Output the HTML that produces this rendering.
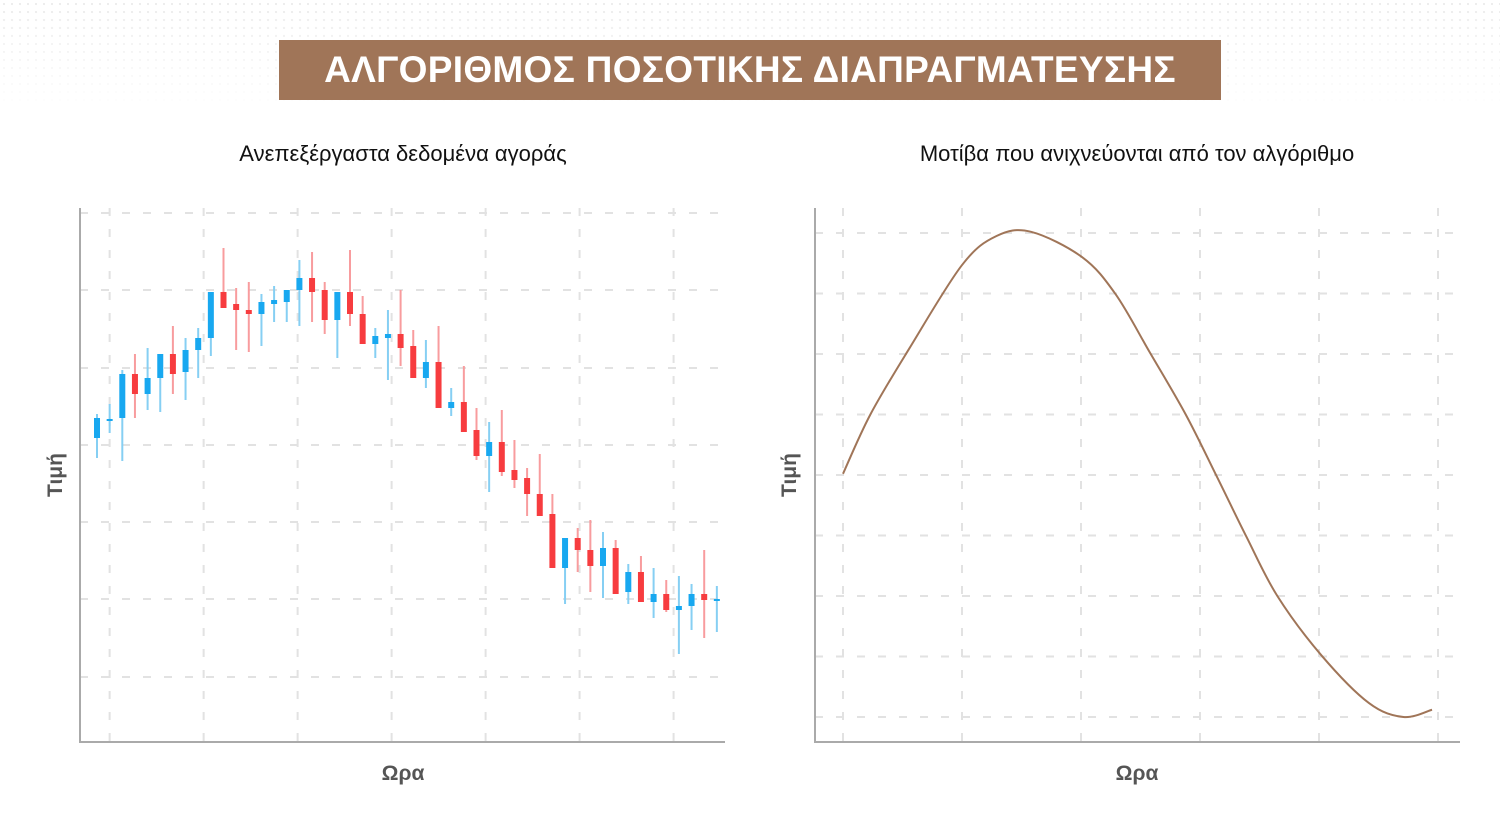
<!DOCTYPE html>
<html><head><meta charset="utf-8">
<style>
html,body{margin:0;padding:0;background:#fff;}
body{width:1500px;height:822px;position:relative;overflow:hidden;font-family:"Liberation Sans","DejaVu Sans",sans-serif;}
.dots{position:absolute;left:0;top:0;width:1500px;height:110px;background-image:radial-gradient(#e6e6e6 1px,transparent 1.3px);background-size:8px 8px;-webkit-mask-image:linear-gradient(to bottom,rgba(0,0,0,.8),rgba(0,0,0,0));}
.banner{position:absolute;left:279px;top:40px;width:942px;height:60px;background:#a07558;color:#fff;font-weight:bold;font-size:37px;line-height:60px;text-align:center;letter-spacing:0.3px;}
.sub{position:absolute;top:141px;font-size:22px;color:#111;text-align:center;width:600px;}
svg{position:absolute;left:0;top:0;}
</style></head>
<body>
<div class="dots"></div>
<div class="banner">ΑΛΓΟΡΙΘΜΟΣ ΠΟΣΟΤΙΚΗΣ ΔΙΑΠΡΑΓΜΑΤΕΥΣΗΣ</div>
<div class="sub" style="left:103px">Ανεπεξέργαστα δεδομένα αγοράς</div>
<div class="sub" style="left:837px">Μοτίβα που ανιχνεύονται από τον αλγόριθμο</div>
<svg id="chart" width="1500" height="822">
  <g id="leftGrid"></g>
  <g id="rightGrid"></g>
  <g id="candles"></g>
  <path id="pattern" fill="none" stroke="#a07558" stroke-width="2"></path>
  <line x1="80" y1="208" x2="80" y2="742" stroke="#aaa" stroke-width="2"/>
  <line x1="79" y1="742" x2="725" y2="742" stroke="#aaa" stroke-width="2"/>
  <line x1="815" y1="208" x2="815" y2="742" stroke="#aaa" stroke-width="2"/>
  <line x1="814" y1="742" x2="1460" y2="742" stroke="#aaa" stroke-width="2"/>
  <text x="403" y="780" text-anchor="middle" font-size="21" font-weight="bold" fill="#555">Ωρα</text>
  <text x="1137" y="780" text-anchor="middle" font-size="21" font-weight="bold" fill="#555">Ωρα</text>
  <text transform="translate(62,475) rotate(-90)" text-anchor="middle" font-size="21" font-weight="bold" fill="#555">Τιμή</text>
  <text transform="translate(796,475) rotate(-90)" text-anchor="middle" font-size="21" font-weight="bold" fill="#555">Τιμή</text>
</svg>
<script>
// Left chart: OHLC data (price units)
const opens  = [362,380,382,426,406,422,446,428,450,462,508,496,490,486,496,498,510,522,510,480,508,486,456,462,466,454,422,438,392,398,370,344,358,330,322,306,286,232,262,250,234,252,208,228,198,206,190,194,206,200];
const closes = [382,381,426,406,422,446,426,450,462,508,492,490,486,498,500,510,522,508,480,508,486,456,464,466,452,422,438,392,398,368,344,358,328,320,306,284,232,262,250,234,252,206,228,198,206,190,194,206,200,201];
const highs  = [386,396,430,446,452,446,474,462,472,508,552,512,518,506,514,510,540,548,518,508,550,504,472,490,510,470,460,474,412,434,392,378,390,360,332,346,306,262,272,280,268,260,236,244,232,220,224,216,250,214];
const lows   = [342,367,339,382,390,388,406,400,422,444,492,450,448,454,478,478,474,478,466,442,474,456,442,420,434,422,412,392,384,368,340,308,324,312,284,284,232,196,228,208,202,206,196,198,182,188,146,170,162,168];
const leftGridPrices = [587,510,432,355,278,201,123];
const leftGridTimes = [1,8.43,15.86,23.29,30.72,38.15,45.58];

// Right chart: detected pattern points (time, value)
const patternTimes  = [0,0.23,0.56,1.0,1.29,1.58,2.01,2.29,2.58,2.88,3.14,3.39,3.65,4.02,4.42,4.71,4.95];
const patternValues = [4.02,5.0,6.1,7.47,7.95,8.02,7.6,6.99,6.02,5.0,3.98,2.98,2.0,1.02,0.23,0.0,0.12];
const rightGridValues = [0,1,2,3,4,5,6,7,8];
const rightGridTimes = [0,1,2,3,4,5];

const NS = "http://www.w3.org/2000/svg";
const lx = i => 97 + i * 12.65;
const ly = p => 800 - p;
const rx = t => 843 + t * 119;
const ry = v => 717 - v * 60.5;

function mk(tag, attrs, parent){
  const e = document.createElementNS(NS, tag);
  for (const k in attrs) e.setAttribute(k, attrs[k]);
  parent.appendChild(e);
  return e;
}
const lg = document.getElementById('leftGrid');
leftGridPrices.forEach(p => {
  const l = mk('line', {x1:80, x2:725, y1:ly(p), y2:ly(p), stroke:'#e2e2e2', 'stroke-width':2, 'stroke-dasharray':'8 13'}, lg);
  
  
});
leftGridTimes.forEach(t => {
  const l = mk('line', {x1:lx(t), x2:lx(t), y1:208, y2:742, stroke:'#e2e2e2', 'stroke-width':2, 'stroke-dasharray':'8 13'}, lg);
  
  
});
const rg = document.getElementById('rightGrid');
rightGridValues.forEach(v => {
  const l = mk('line', {x1:815, x2:1460, y1:ry(v), y2:ry(v), stroke:'#e2e2e2', 'stroke-width':2, 'stroke-dasharray':'8 13'}, rg);
  
  
});
rightGridTimes.forEach(t => {
  const l = mk('line', {x1:rx(t), x2:rx(t), y1:208, y2:742, stroke:'#e2e2e2', 'stroke-width':2, 'stroke-dasharray':'8 13'}, rg);
  
  
});

const cg = document.getElementById('candles');
opens.forEach((o, i) => {
  const c = closes[i], up = c >= o;
  const x = lx(i);
  const w = mk('line', {x1:x, x2:x, y1:ly(highs[i]), y2:ly(lows[i]), stroke: up ? '#86cff3' : '#f89c9e', 'stroke-width':2}, cg);
  
  
  const top = ly(Math.max(o, c)), h = Math.max(2, Math.abs(c - o));
  const b = mk('rect', {x:x-3, y:top, width:6, height:h, fill: up ? '#18a8f0' : '#f73c3f'}, cg);
  
  
});

// Catmull-Rom smoothing for pattern line
const pts = patternTimes.map((t, i) => [rx(t), ry(patternValues[i])]);
let d = 'M' + pts[0][0] + ',' + pts[0][1];
for (let i = 0; i < pts.length - 1; i++) {
  const p0 = pts[i-1] || pts[i], p1 = pts[i], p2 = pts[i+1], p3 = pts[i+2] || p2;
  const c1 = [p1[0] + (p2[0]-p0[0])/6, p1[1] + (p2[1]-p0[1])/6];
  const c2 = [p2[0] - (p3[0]-p1[0])/6, p2[1] - (p3[1]-p1[1])/6];
  d += ' C' + c1.join(',') + ' ' + c2.join(',') + ' ' + p2.join(',');
}
document.getElementById('pattern').setAttribute('d', d);
</script>
</body></html>
